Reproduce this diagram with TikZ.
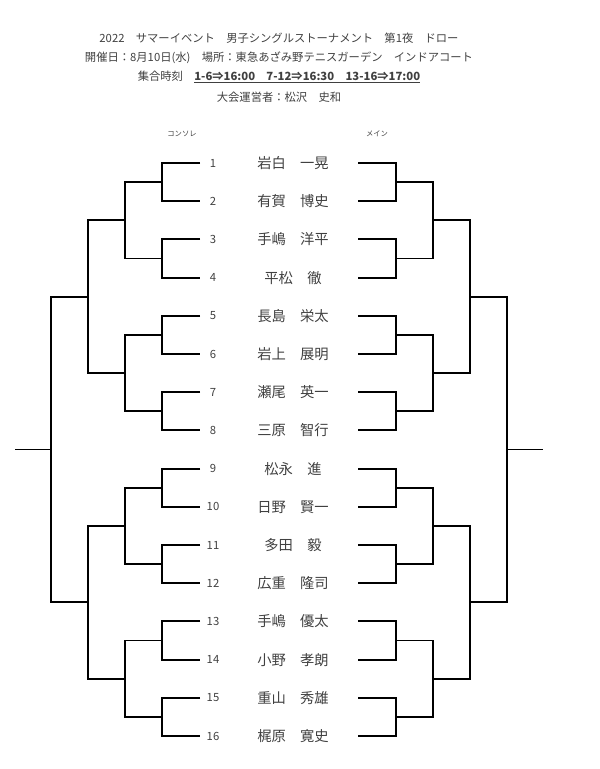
\documentclass[tikz,border=0pt]{standalone}
\usepackage{fontspec}
\setmainfont{Noto Sans CJK JP}
\definecolor{tgray}{HTML}{404040}
\newcommand\myul[1]{\setbox0\hbox{#1}\rlap{\rule[-2.6pt]{\wd0}{1.1pt}}\box0}
\begin{document}
\begin{tikzpicture}[x=1pt,y=-1pt,
  txt/.style={text=tgray, inner sep=0pt},
  hdr/.style={txt, font=\fontsize{11.3}{12}\selectfont},
  num/.style={txt, font=\fontsize{11.3}{12}\selectfont},
  pname/.style={txt, font=\fontsize{14.3}{16}\selectfont},
  tinylab/.style={txt, font=\fontsize{7.3}{8}\selectfont},
  br/.style={line width=1.9pt, black, line join=miter}]
\useasboundingbox (0,0) rectangle (600,769);

\node[hdr] (t1) at (279,38) {2022　サマーイベント　男子シングルストーナメント　第1夜　ドロー};
\node[hdr] (t2) at (279,58) {開催日：8月10日(水)　場所：東急あざみ野テニスガーデン　インドアコート};
\node[hdr] (t3) at (279,77) {集合時刻　\myul{\bfseries 1-6⇒16:00　7-12⇒16:30　13-16⇒17:00}};
\node[hdr] (t4) at (279,97) {大会運営者：松沢　史和};

\node[tinylab] (consol) at (182,134) {コンソレ};
\node[tinylab] (mainlab) at (377,134) {メイン};

\foreach \i/\nm in {1/岩白　一晃, 2/有賀　博史, 3/手嶋　洋平, 4/平松　徹,
  5/長島　栄太, 6/岩上　展明, 7/瀬尾　英一, 8/三原　智行,
  9/松永　進, 10/日野　賢一, 11/多田　毅, 12/広重　隆司,
  13/手嶋　優太, 14/小野　孝朗, 15/重山　秀雄, 16/梶原　寛史} {
  \pgfmathsetmacro\yy{163+(\i-1)*38.2}
  \node[num] (n\i) at (213,\yy) {\i};
  \node[pname] (p\i) at (293,\yy) {\nm};
}

\foreach \r/\xa/\xb in {1/200/162, 2/162/125, 3/125/88, 4/88/51} {
  \pgfmathtruncatemacro\g{16/2^\r}
  \pgfmathtruncatemacro\gs{2^\r}
  \foreach \j in {1,...,\g} {
    \pgfmathsetmacro\ct{(\j-1)*\gs + (\gs/2+1)/2}
    \pgfmathsetmacro\cb{\ct + \gs/2}
    \pgfmathsetmacro\yt{163+(\ct-1)*38.2}
    \pgfmathsetmacro\yb{163+(\cb-1)*38.2}
    \draw[br] (\xa,\yt) -- (\xb,\yt) -- (\xb,\yb) -- (\xa,\yb);
    \draw[br] (558-\xa,\yt) -- (558-\xb,\yt) -- (558-\xb,\yb) -- (558-\xa,\yb);
  }
}
\coordinate (lf) at (51,449.5);
\coordinate (lw) at (15,449.5);
\coordinate (rf) at (507,449.5);
\coordinate (rw) at (543,449.5);
\draw[br] (lf) -- (lw);
\draw[br] (rf) -- (rw);
\end{tikzpicture}
\end{document}
